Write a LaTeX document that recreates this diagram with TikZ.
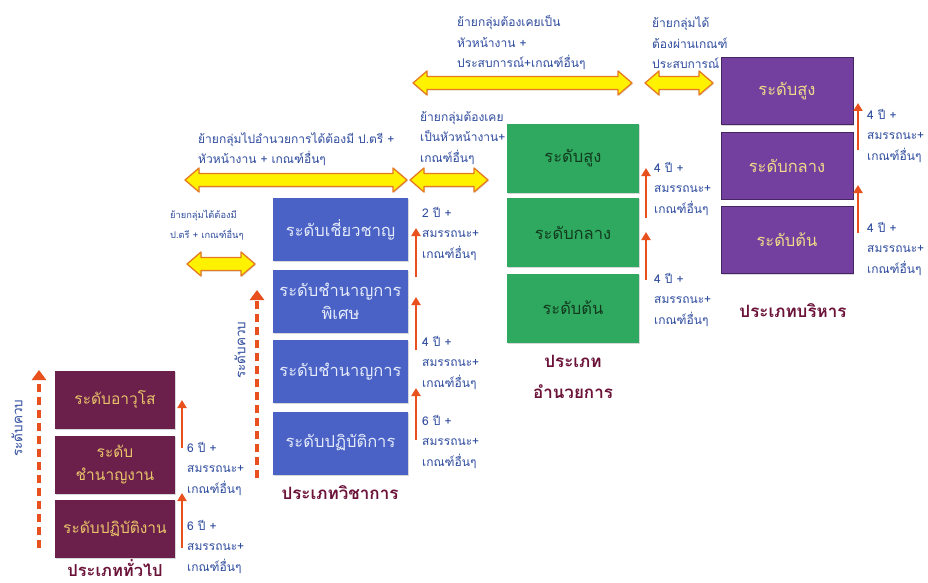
\documentclass[tikz,border=0pt]{standalone}
\usepackage{fontspec}
\setmainfont{Loma}[Script=Thai]
\usetikzlibrary{arrows.meta,shadows}

% colours of the four groups and of the annotations
\definecolor{genfill}{HTML}{6B1F4B}
\definecolor{gentext}{HTML}{E9C46A}
\definecolor{acafill}{HTML}{4A62C6}
\definecolor{acatext}{HTML}{E4EAFA}
\definecolor{dirfill}{HTML}{2FA95F}
\definecolor{dirtext}{HTML}{123A1E}
\definecolor{exefill}{HTML}{7440A0}
\definecolor{exetext}{HTML}{EEDB8A}
\definecolor{stepred}{HTML}{E8501E}
\definecolor{notetext}{HTML}{2F4C9E}
\definecolor{titlecol}{HTML}{6A1238}
\definecolor{ylwfill}{HTML}{FFF200}
\definecolor{ylwline}{HTML}{E57A22}

% three-line note beside a step arrow
\newcommand\steptext[1]{#1 ปี +\\สมรรถนะ+\\เกณฑ์อื่นๆ}

% yellow two-headed transfer arrow: left x, right x, middle y
\newcommand\transferarrow[3]{%
  \filldraw[fill=ylwfill, draw=ylwline, line width=1.3pt, line join=round,
    drop shadow={shadow xshift=1pt, shadow yshift=-1pt, opacity=0.25}]
    ({#1},{#3}) -- ({#1+14},{#3-12}) -- ({#1+14},{#3-6.5})
    -- ({#2-14},{#3-6.5}) -- ({#2-14},{#3-12}) -- ({#2},{#3})
    -- ({#2-14},{#3+12}) -- ({#2-14},{#3+6.5}) -- ({#1+14},{#3+6.5})
    -- ({#1+14},{#3+12}) -- cycle;}

\tikzset{
  levelbox/.style={inner sep=2pt, align=center,
    font=\fontsize{16.5}{23}\selectfont,
    drop shadow={shadow xshift=1.2pt, shadow yshift=-1.2pt, opacity=0.3}},
  genbox/.style={levelbox, fill=genfill, text=gentext,
    font=\fontsize{15.5}{23}\selectfont,
    minimum width=120pt, minimum height=58pt},
  acabox/.style={levelbox, fill=acafill, text=acatext,
    minimum width=135pt, minimum height=63pt},
  dirbox/.style={levelbox, fill=dirfill, text=dirtext,
    minimum width=132pt, minimum height=69pt},
  exebox/.style={levelbox, fill=exefill, text=exetext,
    draw=exefill!60!black, line width=0.6pt,
    minimum width=132pt, minimum height=67pt},
  steparrow/.style={draw=stepred, line width=2.4pt,
    -{Triangle[length=8pt,width=9pt]}},
  levelarrow/.style={draw=stepred, line width=3.2pt,
    dash pattern=on 8pt off 5pt, -{Triangle[length=10pt,width=14pt]}},
  note/.style={text=notetext, font=\fontsize{12}{20.5}\selectfont,
    align=left, anchor=west, inner sep=0pt},
  smallnote/.style={note, font=\fontsize{9.3}{20}\selectfont},
  sidelabel/.style={text=notetext, font=\fontsize{13.5}{15}\selectfont,
    rotate=90, inner sep=0pt},
  grouptitle/.style={text=titlecol, font=\bfseries\fontsize{17}{31}\selectfont,
    align=center, inner sep=0pt}
}

\begin{document}
\begin{tikzpicture}[x=1pt, y=-1pt]
\useasboundingbox[fill=white] (0,0) rectangle (928,583);

% notes above the transfer arrows
\node[note] (n1) at (198,149) {ย้ายกลุ่มไปอำนวยการได้ต้องมี ป.ตรี +\\หัวหน้างาน + เกณฑ์อื่นๆ};
\node[note] (n2) at (420,138) {ย้ายกลุ่มต้องเคย\\เป็นหัวหน้างาน+\\เกณฑ์อื่นๆ};
\node[note] (n3) at (457,43) {ย้ายกลุ่มต้องเคยเป็น\\หัวหน้างาน +\\ประสบการณ์+เกณฑ์อื่นๆ};
\node[note] (n4) at (652,43) {ย้ายกลุ่มได้\\ต้องผ่านเกณฑ์\\ประสบการณ์};
\node[smallnote] (n5) at (170,225) {ย้ายกลุ่มได้ต้องมี\\ป.ตรี + เกณฑ์อื่นๆ};

% transfer arrows between groups
\transferarrow{185}{407}{180}
\transferarrow{410}{488}{180}
\transferarrow{413}{632}{83}
\transferarrow{645}{713}{83}
\transferarrow{187}{255}{264}

% general group
\node[genbox] (g1) at (115,400) {ระดับอาวุโส};
\node[genbox] (g2) at (115,465) {ระดับ\\ชำนาญงาน};
\node[genbox] (g3) at (115,529) {ระดับปฏิบัติงาน};
\node[grouptitle, font=\bfseries\fontsize{16.5}{30}\selectfont] (gt) at (115,568) {ประเภททั่วไป};

% academic group
\node[acabox] (a1) at (340.5,229.5) {ระดับเชี่ยวชาญ};
\node[acabox] (a2) at (340.5,301) {ระดับชำนาญการ\\พิเศษ};
\node[acabox] (a3) at (340.5,371.5) {ระดับชำนาญการ};
\node[acabox] (a4) at (340.5,443) {ระดับปฏิบัติการ};
\node[grouptitle] (at) at (340,493) {ประเภทวิชาการ};

% director group
\node[dirbox] (d1) at (573,158.5) {ระดับสูง};
\node[dirbox] (d2) at (573,232.5) {ระดับกลาง};
\node[dirbox] (d3) at (573,308) {ระดับต้น};
\node[grouptitle] (dt) at (573,377) {ประเภท\\อำนวยการ};

% executive group
\node[exebox] (e1) at (787,91) {ระดับสูง};
\node[exebox] (e2) at (787,165.5) {ระดับกลาง};
\node[exebox] (e3) at (787,240) {ระดับต้น};
\node[grouptitle] (et) at (793,311) {ประเภทบริหาร};

% cross-level dashed arrows with their labels
\coordinate (gl0) at (39,548);  \coordinate (gl1) at (39,370);
\draw[levelarrow] (gl0) -- (gl1);
\node[sidelabel] (gls) at (17,428) {ระดับควบ};
\coordinate (al0) at (257,478); \coordinate (al1) at (257,290);
\draw[levelarrow] (al0) -- (al1);
\node[sidelabel] (als) at (240,350) {ระดับควบ};

% step arrows: general group
\coordinate (gs1a) at (182,448); \coordinate (gs1b) at (182,400);
\coordinate (gs2a) at (182,548); \coordinate (gs2b) at (182,493);
\draw[steparrow] (gs1a) -- (gs1b);
\draw[steparrow] (gs2a) -- (gs2b);
\node[note] (gn1) at (187,469) {\steptext{6}};
\node[note] (gn2) at (187,547) {\steptext{6}};

% step arrows: academic group
\coordinate (as1a) at (416,277); \coordinate (as1b) at (416,228);
\coordinate (as2a) at (416,350); \coordinate (as2b) at (416,297);
\coordinate (as3a) at (416,440); \coordinate (as3b) at (416,388);
\draw[steparrow] (as1a) -- (as1b);
\draw[steparrow] (as2a) -- (as2b);
\draw[steparrow] (as3a) -- (as3b);
\node[note] (an1) at (422,234) {\steptext{2}};
\node[note] (an2) at (422,363) {\steptext{4}};
\node[note] (an3) at (422,442) {\steptext{6}};

% step arrows: director group
\coordinate (ds1a) at (646,218); \coordinate (ds1b) at (646,168);
\coordinate (ds2a) at (646,280); \coordinate (ds2b) at (646,232);
\draw[steparrow] (ds1a) -- (ds1b);
\draw[steparrow] (ds2a) -- (ds2b);
\node[note] (dn1) at (654,189) {\steptext{4}};
\node[note] (dn2) at (654,300) {\steptext{4}};

% step arrows: executive group
\coordinate (es1a) at (858,150); \coordinate (es1b) at (858,103);
\coordinate (es2a) at (858,233); \coordinate (es2b) at (858,185);
\draw[steparrow] (es1a) -- (es1b);
\draw[steparrow] (es2a) -- (es2b);
\node[note] (en1) at (867,136) {\steptext{4}};
\node[note] (en2) at (867,249) {\steptext{4}};
\end{tikzpicture}
\end{document}
